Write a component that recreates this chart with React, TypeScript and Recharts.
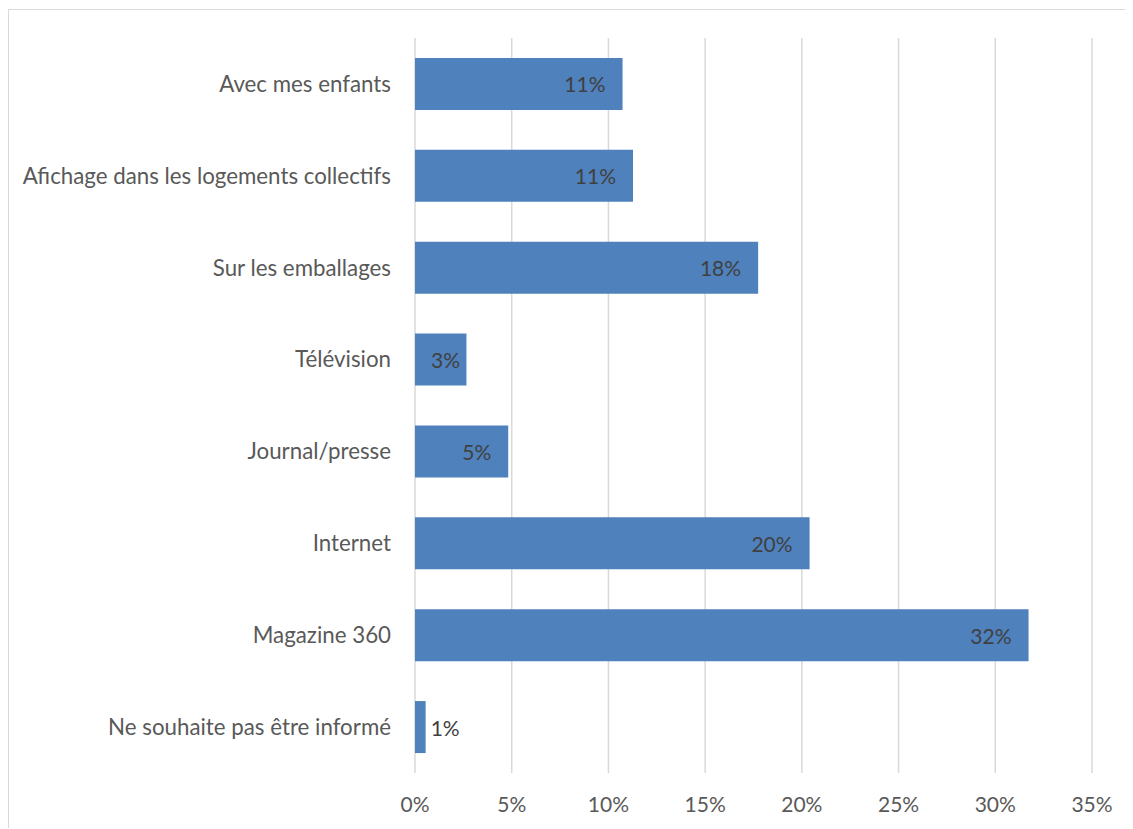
import { BarChart, Bar, XAxis, YAxis, CartesianGrid, LabelList } from 'recharts';

const categories = [
  'Avec mes enfants',
  'Afichage dans les logements collectifs',
  'Sur les emballages',
  'Télévision',
  'Journal/presse',
  'Internet',
  'Magazine 360',
  'Ne souhaite pas être informé',
];
const shares = [10.73, 11.27, 17.74, 2.66, 4.82, 20.4, 31.72, 0.55];
const xTicks = [0, 5, 10, 15, 20, 25, 30, 35];

const data = categories.map((name, i) => ({ name, value: shares[i] }));

const renderValue = (props: any) => {
  const { x, y, width, height, value } = props;
  const text = `${Math.round(value)}%`;
  const cy = y + height / 2;
  let tx = x + width - 17;
  let anchor: 'start' | 'end' = 'end';
  if (width < 20) {
    tx = x + width + 5;
    anchor = 'start';
  } else if (width < 60) {
    tx = x + 16;
    anchor = 'start';
  }
  return (
    <text x={tx} y={cy} textAnchor={anchor} dominantBaseline="central" fill="#404040" fontSize={21}>
      {text}
    </text>
  );
};

export default function App() {
  return (
    <div
      style={{
        position: 'relative',
        left: 0,
        top: 1,
        width: 1125,
        height: 820,
        boxSizing: 'border-box',
        borderTop: '1px solid #d9d9d9',
        borderLeft: '1px solid #d9d9d9',
        fontFamily: 'Lato, sans-serif',
        background: '#fff',
      }}
    >
      <div style={{ position: 'absolute', left: -1, top: 0 }}>
        <BarChart
          width={1125}
          height={819}
          data={data}
          layout="vertical"
          barCategoryGap="21.7%"
          margin={{ top: 28, right: 41, bottom: 0, left: 0 }}
        >
          <CartesianGrid horizontal={false} stroke="#d9d9d9" strokeWidth={1.5} />
          <XAxis
            type="number"
            domain={[0, 35]}
            ticks={xTicks}
            tickFormatter={(v) => `${v}%`}
            axisLine={false}
            tickLine={false}
            tickMargin={18}
            height={56}
            tick={{ fill: '#595959', fontSize: 21 }}
          />
          <YAxis
            type="category"
            dataKey="name"
            width={407}
            axisLine={false}
            tickLine={false}
            tickMargin={18}
            interval={0}
            tick={{ fill: '#595959', fontSize: 22.3 }}
          />
          <Bar dataKey="value" fill="#4f81bd" isAnimationActive={false}>
            <LabelList dataKey="value" content={renderValue} />
          </Bar>
        </BarChart>
      </div>
    </div>
  );
}
